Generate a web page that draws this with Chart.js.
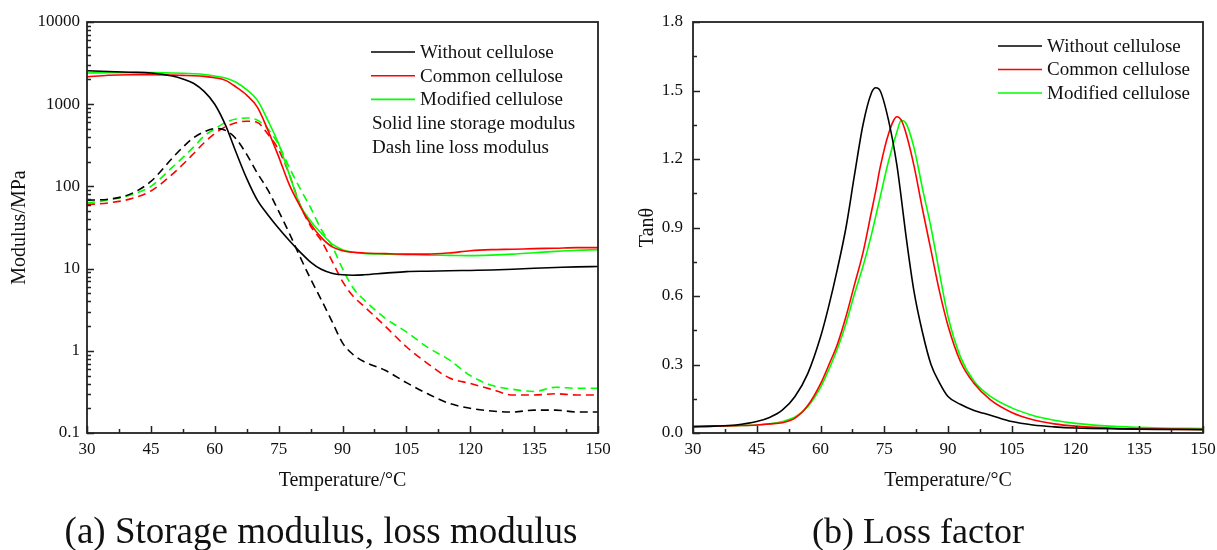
<!DOCTYPE html>
<html><head><meta charset="utf-8">
<script src="https://cdn.jsdelivr.net/npm/chart.js@4"></script>
<style>
html,body{margin:0;padding:0;background:#fff;}
#wrap{position:relative;width:1217px;height:550px;overflow:hidden;background:#fff;}
canvas{position:absolute;top:0;}
.cap{position:absolute;top:511px;font-family:'Liberation Serif';font-size:36px;line-height:40px;color:#111;white-space:nowrap;transform:translateX(-50%);}
</style></head><body>
<div id="wrap">
<canvas id="c1" width="620" height="550" style="left:0;width:620px;height:550px"></canvas>
<canvas id="c2" width="605" height="550" style="left:620px;width:605px;height:550px"></canvas>
<div class="cap" style="left:321px;font-size:37px">(a) Storage modulus, loss modulus</div>
<div class="cap" style="left:918px">(b) Loss factor</div>
</div>
<script>
// ---------- data ----------
const seriesNames = ['Without cellulose', 'Common cellulose', 'Modified cellulose'];
const legendNotes = ['Solid line storage modulus', 'Dash line loss modulus'];
const xTicks = [30, 45, 60, 75, 90, 105, 120, 135, 150];
const logTicks = [0.1, 1, 10, 100, 1000, 10000];
const logTickLabels = ['0.1', '1', '10', '100', '1000', '10000'];
const tanTicks = [0, 0.3, 0.6, 0.9, 1.2, 1.5, 1.8];
const tanTickLabels = ['0.0', '0.3', '0.6', '0.9', '1.2', '1.5', '1.8'];

const modT = [30,35,40,45,50,52.5,55,57.5,60,62.5,65,67.5,70,72.5,75,77.5,80,82.5,85,87.5,90,92.5,95,100,105,110,115,120,125,130,135,140,145,150];
const storageWithout = [2550,2500,2450,2400,2200,2030,1800,1430,1000,560,260,125,68,45,31,22,16,12,9.8,8.8,8.4,8.3,8.4,8.8,9.2,9.3,9.4,9.5,9.6,9.8,10.1,10.3,10.5,10.6];
const storageCommon = [2150,2250,2280,2280,2260,2240,2220,2180,2100,1950,1620,1290,920,480,230,105,58,35,24,18.5,16.5,15.8,15.5,15.2,15,15,15.5,16.5,17,17.2,17.5,17.7,18,18];
const storageModified = [2400,2420,2420,2420,2400,2380,2350,2300,2200,2080,1850,1500,1120,630,330,140,60,38,27,20,17,15.8,15.3,15,14.8,14.6,14.5,14.4,14.6,15,15.6,16.2,16.7,17];
const lossWithout = [68,70,80,115,220,300,390,460,505,480,380,245,145,90,50,27,14,7.5,4.2,2.3,1.25,0.9,0.74,0.58,0.41,0.3,0.23,0.2,0.185,0.18,0.19,0.19,0.18,0.18];
const lossCommon = [60,63,70,88,140,185,250,340,440,530,595,620,600,430,280,140,60,33,22,12.5,7,4.6,3.5,2.0,1.12,0.7,0.47,0.4,0.34,0.29,0.29,0.3,0.29,0.29];
const lossModified = [63,68,78,100,170,225,300,410,500,600,660,680,640,500,320,170,95,55,30,19,10,5.8,4.2,2.5,1.7,1.1,0.78,0.5,0.38,0.34,0.32,0.36,0.35,0.35];

const tanT = [30,35,40,45,48,51,54,57,60,62,64,66,68,70,72,73,74,76,78,79,80,82,84,86,88,90,93,96,100,105,110,115,120,130,140,150];
const tanWithout = [0.028,0.03,0.035,0.05,0.068,0.1,0.16,0.26,0.42,0.56,0.72,0.9,1.13,1.35,1.49,1.512,1.5,1.37,1.17,1.03,0.88,0.62,0.44,0.3,0.22,0.16,0.125,0.1,0.078,0.05,0.035,0.027,0.022,0.018,0.016,0.015];
const tanCommon = [0.028,0.03,0.032,0.035,0.04,0.045,0.065,0.12,0.215,0.3,0.39,0.51,0.65,0.79,0.97,1.06,1.16,1.31,1.385,1.37,1.32,1.17,0.98,0.8,0.62,0.47,0.31,0.22,0.145,0.09,0.058,0.04,0.03,0.02,0.017,0.015];
const tanModified = [0.028,0.03,0.032,0.035,0.04,0.05,0.07,0.115,0.2,0.28,0.37,0.48,0.61,0.73,0.87,0.95,1.03,1.19,1.32,1.37,1.36,1.25,1.07,0.9,0.7,0.51,0.33,0.23,0.16,0.11,0.077,0.056,0.042,0.028,0.022,0.02];

const colors = ['#000000', '#ff0000', '#00ff00'];

// ---------- helpers ----------
const FONT = 'Liberation Serif';
const pts = (xs, ys) => xs.map((x, i) => ({x, y: ys[i]}));
const ds = (xs, ys, color, dashed) => ({
  data: pts(xs, ys), borderColor: color, borderWidth: 1.6, pointRadius: 0,
  borderDash: dashed ? [8, 5] : [], cubicInterpolationMode: 'monotone', fill: false
});
const xMinor = xTicks.slice(0, -1).map((v, i) => (v + xTicks[i + 1]) / 2);
const logMinor = [];
logTicks.slice(0, -1).forEach(d => { for (let k = 2; k <= 9; k++) logMinor.push(k * d); });
const tanMinor = tanTicks.slice(0, -1).map((v, i) => (v + tanTicks[i + 1]) / 2);

const framePlugin = {
  id: 'frame',
  afterDatasetsDraw(chart, args, o) {
    const {ctx, chartArea: a, scales: {x, y}} = chart;
    ctx.save();
    ctx.strokeStyle = '#222';
    ctx.lineWidth = 1.5;
    ctx.beginPath();
    xTicks.forEach(v => { const p = Math.round(x.getPixelForValue(v)) + 0.5; ctx.moveTo(p, a.bottom); ctx.lineTo(p, a.bottom - 7); });
    xMinor.forEach(v => { const p = Math.round(x.getPixelForValue(v)) + 0.5; ctx.moveTo(p, a.bottom); ctx.lineTo(p, a.bottom - 4); });
    o.yMajor.forEach(v => { const p = Math.round(y.getPixelForValue(v)) + 0.5; ctx.moveTo(a.left, p); ctx.lineTo(a.left + 7, p); });
    o.yMinor.forEach(v => { const p = Math.round(y.getPixelForValue(v)) + 0.5; ctx.moveTo(a.left, p); ctx.lineTo(a.left + 4, p); });
    ctx.stroke();
    ctx.lineWidth = 1.8;
    ctx.strokeRect(a.left, a.top, a.right - a.left, a.bottom - a.top);
    ctx.restore();
  }
};

const legendPlugin = {
  id: 'myLegend',
  afterDraw(chart, args, o) {
    const {ctx, chartArea: a} = chart;
    ctx.save();
    ctx.font = '19px ' + FONT;
    ctx.textBaseline = 'middle';
    ctx.fillStyle = '#111';
    let yy = a.top + o.top;
    const x0 = a.left + o.left;
    seriesNames.forEach((n, i) => {
      ctx.strokeStyle = colors[i]; ctx.lineWidth = 1.6;
      ctx.beginPath(); ctx.moveTo(x0, yy); ctx.lineTo(x0 + 44, yy); ctx.stroke();
      ctx.fillText(n, x0 + 49, yy + 1);
      yy += o.step;
    });
    (o.notes || []).forEach(n => { ctx.fillText(n, x0 + 1, yy + 1); yy += o.step; });
    ctx.restore();
  }
};

function makeScales(yScale, yTitle, yWidth, yTitlePad) {
  return {
    x: {
      type: 'linear', min: 30, max: 150,
      afterBuildTicks: s => { s.ticks = xTicks.map(v => ({value: v})); },
      afterFit: s => { s.height = 67; },
      grid: {display: false, drawTicks: false, tickLength: 0},
      border: {display: false},
      ticks: {autoSkip: false, maxRotation: 0, padding: 6, color: '#111', font: {family: FONT, size: 17}},
      title: {display: true, text: 'Temperature/°C', color: '#111', font: {family: FONT, size: 20}, padding: {top: 7, bottom: 7}}
    },
    y: Object.assign({
      afterFit: s => { s.width = yWidth; },
      grid: {display: false, drawTicks: false, tickLength: 0},
      border: {display: false},
      title: {display: true, text: yTitle, color: '#111', font: {family: FONT, size: 20}, padding: {top: yTitlePad, bottom: yTitlePad}}
    }, yScale)
  };
}

const common = {
  responsive: false, animation: false, devicePixelRatio: 1, events: [],
};

new Chart(document.getElementById('c1'), {
  type: 'line',
  data: {datasets: [
    ds(modT, storageWithout, colors[0], false),
    ds(modT, storageCommon, colors[1], false),
    ds(modT, storageModified, colors[2], false),
    ds(modT, lossWithout, colors[0], true),
    ds(modT, lossCommon, colors[1], true),
    ds(modT, lossModified, colors[2], true)
  ]},
  options: Object.assign({}, common, {
    layout: {padding: {left: 0, top: 22, right: 22, bottom: 50}},
    plugins: {legend: {display: false}, tooltip: {enabled: false},
      frame: {yMajor: logTicks, yMinor: logMinor},
      myLegend: {top: 30, left: 284, step: 23.7, notes: legendNotes}},
    scales: makeScales({
      type: 'logarithmic', min: 0.1, max: 10000,
      afterBuildTicks: s => { s.ticks = logTicks.map(v => ({value: v})); },
      ticks: {autoSkip: false, padding: 7, color: '#111', font: {family: FONT, size: 17},
        callback: v => { const i = logTicks.indexOf(v); return i >= 0 ? logTickLabels[i] : ''; }}
    }, 'Modulus/MPa', 87, 8)
  }),
  plugins: [framePlugin, legendPlugin]
});

new Chart(document.getElementById('c2'), {
  type: 'line',
  data: {datasets: [
    ds(tanT, tanWithout, colors[0], false),
    ds(tanT, tanCommon, colors[1], false),
    ds(tanT, tanModified, colors[2], false)
  ]},
  options: Object.assign({}, common, {
    layout: {padding: {left: 0, top: 22, right: 22, bottom: 50}},
    plugins: {legend: {display: false}, tooltip: {enabled: false},
      frame: {yMajor: tanTicks, yMinor: tanMinor},
      myLegend: {top: 24, left: 305, step: 23.5, notes: []}},
    scales: makeScales({
      type: 'linear', min: 0, max: 1.8,
      afterBuildTicks: s => { s.ticks = tanTicks.map(v => ({value: v})); },
      ticks: {autoSkip: false, padding: 10, color: '#111', font: {family: FONT, size: 17},
        callback: v => { const i = tanTicks.indexOf(v); return i >= 0 ? tanTickLabels[i] : ''; }}
    }, 'Tanθ', 73, 16)
  }),
  plugins: [framePlugin, legendPlugin]
});
</script>
</body></html>
